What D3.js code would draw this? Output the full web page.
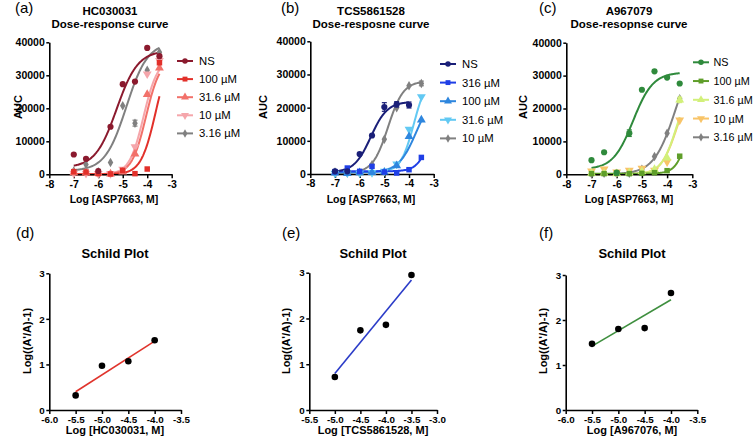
<!DOCTYPE html>
<html><head><meta charset="utf-8">
<script src="https://cdn.jsdelivr.net/npm/d3@7"></script>
<style>body{margin:0;background:#fff} text{font-family:"Liberation Sans",Arial,sans-serif}</style>
</head><body><svg id="c" width="756" height="442"></svg>
<script>
// ---------------- DATA ----------------
const doseX = [-7, -6.5, -6, -5.5, -5, -4.5, -4, -3.5];
const doseTicksX = [-8, -7, -6, -5, -4, -3];
const doseTicksY = [0, 10000, 20000, 30000, 40000];

// (a) HC030031
const namesA = ["NS", "100 µM", "31.6 µM", "10 µM", "3.16 µM"];
const aNS  = [6000, 4700, 1000, 14400, 27300, 28100, 38300, 35800];
const a100 = [800, 700, 200, 100, 1200, 200, 1600, 33800];
const a31  = [500, 400, 300, 100, 700, 6200, 24200, 32200];
const a10  = [300, 300, 200, 200, 1500, 8300, 30400, 34500];
const a3   = [1000, 3000, 800, 3600, 20800, 15500, 31500, 37000];
const errA3 = [0, 0, 0, 0, 0, 900, 0, 0];
const fitBottomA = [2000, 0, 0, 0, 1000];
const fitTopA    = [37500, 38000, 35000, 35000, 40000];
const fitEC50A   = [-5.25, -3.65, -4.05, -4.15, -4.85];
const fitHillA   = [1.0, 1.45, 1.5, 1.5, 1.0];

// (b) TCS5861528
const namesB = ["NS", "316 µM", "100 µM", "31.6 µM", "10 µM"];
const bNSX = [-7, -6.5, -6, -5.5, -5, -4.5, -4];
const bNS  = [800, 800, 6000, 11600, 20200, 21000, 20800];
const errBNS = [0, 0, 0, 0, 1300, 800, 900];
const b316 = [700, 1800, 800, 2300, 600, 300, 1300, 5000];
const b100 = [300, 200, 400, 500, 600, 2500, 11300, 16300];
const b31  = [200, 300, 300, 400, 800, 3000, 13500, 23300];
const b10  = [600, 300, 300, 2800, 10500, 20000, 26600, 27300];
const errB10 = [0, 0, 0, 0, 0, 0, 0, 700];
const fitBottomB = [500, 800, 500, 500, 300];
const fitTopB    = [21800, 30000, 25000, 30000, 28000];
const fitEC50B   = [-5.55, -3.0, -3.7, -3.8, -4.85];
const fitHillB   = [1.3, 1.6, 1.2, 1.6, 1.4];

// (c) A967079
const namesC = ["NS", "100 µM", "31.6 µM", "10 µM", "3.16 µM"];
const cNS  = [4300, 6700, 500, 12500, 25700, 31300, 29400, 27600];
const errCNS = [0, 0, 0, 1000, 0, 0, 0, 0];
const c100 = [200, 200, 300, 200, 300, 500, 1100, 5500];
const c31  = [300, 300, 200, 400, 800, 1500, 5000, 22600];
const errC31 = [0, 0, 0, 0, 0, 0, 0, 800];
const c10  = [1000, 1600, 700, 1200, 1800, 1200, 3800, 16500];
const c3   = [200, 300, 200, 300, 1500, 5400, 12500, 23000];
const fitBottomC = [1500, 200, 0, 0, 0];
const fitTopC    = [31000, 30000, 30000, 28000, 40000];
const fitEC50C   = [-5.35, -3.1, -3.6, -3.62, -3.65];
const fitHillC   = [1.1, 1.8, 1.4, 1.4, 1.0];

// Schild plots
const schildTicksY = [0, 1, 2, 3];
const dTicksX = [-6.0, -5.5, -5.0, -4.5, -4.0, -3.5];
const dX = [-5.5, -5.0, -4.5, -4.0];
const dY = [0.32, 0.97, 1.07, 1.53];
const dLineX = [-5.5, -4.0];
const dLineY = [0.40, 1.51];

const eTicksX = [-5.5, -5.0, -4.5, -4.0, -3.5, -3.0];
const eX = [-5.0, -4.5, -4.0, -3.5];
const eY = [0.72, 1.74, 1.86, 2.95];
const eLineX = [-5.0, -3.5];
const eLineY = [0.80, 2.84];

const fTicksX = [-6.0, -5.5, -5.0, -4.5, -4.0, -3.5];
const fX = [-5.5, -5.0, -4.5, -4.0];
const fY = [1.47, 1.80, 1.82, 2.60];
const fLineX = [-5.5, -4.0];
const fLineY = [1.42, 2.45];

// ---------------- DRAWING ----------------
const svg = d3.select("#c");
const FONT = '"Liberation Sans", Arial, sans-serif';

const triDown = { draw(ctx, size) { const h = Math.sqrt(size / (Math.sqrt(3)/4)); const r = h/Math.sqrt(3);
  ctx.moveTo(0, r); ctx.lineTo(h/2, -r/2); ctx.lineTo(-h/2, -r/2); ctx.closePath(); } };
const triUp = { draw(ctx, size) { const h = Math.sqrt(size / (Math.sqrt(3)/4)); const r = h/Math.sqrt(3);
  ctx.moveTo(0, -r); ctx.lineTo(h/2, r/2); ctx.lineTo(-h/2, r/2); ctx.closePath(); } };
const shapes = [d3.symbolCircle, d3.symbolSquare, triUp, triDown, d3.symbolDiamond];
const shapeSizes = [30, 30, 34, 34, 26];

function styleAxis(g, fs) {
  g.select(".domain").attr("stroke", "#000").attr("stroke-width", 1.6);
  g.selectAll(".tick line").attr("stroke", "#000").attr("stroke-width", 1.5);
  g.selectAll(".tick text").attr("fill", "#000").attr("font-weight", "bold")
    .attr("font-size", fs).attr("font-family", FONT);
}

function text(x, y, s, o) {
  o = o || {};
  const t = svg.append("text").attr("x", x).attr("y", y).text(s)
    .attr("font-size", o.size || 11).attr("font-weight", o.weight || "bold")
    .attr("text-anchor", o.anchor || "middle").attr("fill", "#000");
  if (o.rotate) t.attr("transform", `rotate(-90,${x},${y})`);
  return t;
}

function logistic(x, b, t, e, h) { return b + (t - b) / (1 + Math.pow(10, (e - x) * h)); }

function dosePanel(cfg) {
  const x = d3.scaleLinear().domain([-8, -3]).range(cfg.xr);
  const y = d3.scaleLinear().domain([0, 40000]).range(cfg.yr);
  const g = svg.append("g");
  for (let i = cfg.series.length - 1; i >= 0; i--) {
    const s = cfg.series[i];
    const x0 = d3.min(s.x), x1 = d3.max(s.x);
    const pts = d3.range(0, 121).map(k => {
      const xv = x0 + (x1 - x0) * k / 120;
      return [xv, logistic(xv, s.fit[0], s.fit[1], s.fit[2], s.fit[3])];
    });
    g.append("path").datum(pts)
      .attr("d", d3.line().x(d => x(d[0])).y(d => y(d[1])))
      .attr("fill", "none").attr("stroke", s.color).attr("stroke-width", 2);
  }
  const ax = g.append("g").attr("transform", `translate(0,${cfg.yr[0]})`)
    .call(d3.axisBottom(x).tickValues(doseTicksX).tickFormat(d => String(d)).tickSize(4).tickSizeOuter(0).tickPadding(2));
  styleAxis(ax, 10.5);
  const ay = g.append("g").attr("transform", `translate(${cfg.xr[0]},0)`)
    .call(d3.axisLeft(y).tickValues(doseTicksY).tickFormat(d => String(d)).tickSize(3).tickSizeOuter(0).tickPadding(1.5));
  styleAxis(ay, 10.5);
  for (let i = cfg.series.length - 1; i >= 0; i--) {
    const s = cfg.series[i];
    const sym = d3.symbol().type(shapes[i]).size(shapeSizes[i]);
    s.x.forEach((xv, j) => {
      const e = s.err ? s.err[j] : 0;
      if (e > 0) {
        g.append("line").attr("x1", x(xv)).attr("x2", x(xv)).attr("y1", y(s.y[j] - e)).attr("y2", y(s.y[j] + e))
          .attr("stroke", s.color).attr("stroke-width", 1.2);
        [s.y[j] - e, s.y[j] + e].forEach(v => g.append("line").attr("x1", x(xv) - 2.5).attr("x2", x(xv) + 2.5)
          .attr("y1", y(v)).attr("y2", y(v)).attr("stroke", s.color).attr("stroke-width", 1.2));
      }
      g.append("path").attr("d", sym()).attr("transform", `translate(${x(xv)},${y(s.y[j])})`).attr("fill", s.color);
    });
  }
  cfg.series.forEach((s, i) => {
    const ly = cfg.legY + i * cfg.legStep;
    g.append("line").attr("x1", cfg.legX).attr("x2", cfg.legX + 16).attr("y1", ly).attr("y2", ly)
      .attr("stroke", s.color).attr("stroke-width", 2);
    g.append("path").attr("d", d3.symbol().type(shapes[i]).size(shapeSizes[i] * 0.8)())
      .attr("transform", `translate(${cfg.legX + 8},${ly})`).attr("fill", s.color);
    text(cfg.legX + cfg.legGap, ly + 4, s.name, { anchor: "start", weight: "normal", size: cfg.legFont });
  });
  text(cfg.tx, 15, cfg.title1, { size: 11.5 });
  text(cfg.tx, 28, cfg.title2, { size: 11.5 });
  text(cfg.lx, 203, "Log [ASP7663, M]", { size: 10.5 });
  text(cfg.yx, 107, "AUC", { size: 11, rotate: true });
  text(cfg.px, 13, cfg.panel, { anchor: "start", weight: "normal", size: 15 });
}

function schildPanel(cfg) {
  const x = d3.scaleLinear().domain(cfg.xd).range(cfg.xr);
  const y = d3.scaleLinear().domain([0, 3]).range(cfg.yr);
  const g = svg.append("g");
  const ax = g.append("g").attr("transform", `translate(0,${cfg.yr[0]})`)
    .call(d3.axisBottom(x).tickValues(cfg.ticks).tickFormat(d => d.toFixed(1)).tickSize(4).tickSizeOuter(0).tickPadding(2));
  styleAxis(ax, 9.8);
  const ay = g.append("g").attr("transform", `translate(${cfg.xr[0]},0)`)
    .call(d3.axisLeft(y).tickValues(schildTicksY).tickFormat(d => String(d)).tickSize(3).tickSizeOuter(0).tickPadding(1.5));
  styleAxis(ay, 9.8);
  g.append("path").datum(cfg.lx.map((v, i) => [v, cfg.ly[i]]))
    .attr("d", d3.line().x(d => x(d[0])).y(d => y(d[1])))
    .attr("stroke", cfg.color).attr("stroke-width", 1.6).attr("fill", "none");
  cfg.px.forEach((v, i) => g.append("circle").attr("cx", x(v)).attr("cy", y(cfg.py[i])).attr("r", 3.3).attr("fill", "#000"));
  text(cfg.tx, 258, "Schild Plot", { size: 13 });
  text(cfg.tx, 434, cfg.xlabel, { size: 11 });
  text(cfg.yx, 341, "Log((A'/A)-1)", { size: 11, rotate: true });
  text(cfg.plx, 238, cfg.panel, { anchor: "start", weight: "normal", size: 15 });
}

function mk(names, cols, ys, errs, b, t, e, h, xs) {
  return names.map((n, i) => ({ name: n, color: cols[i], x: (xs && xs[i]) || doseX, y: ys[i], err: errs[i],
    fit: [b[i], t[i], e[i], h[i]] }));
}

dosePanel({
  xr: [49.3, 171.7], yr: [174.3, 42.3], legX: 177, legY: 61, legStep: 18.1, legGap: 22, legFont: 11.3,
  tx: 110, lx: 114, yx: 22, px: 15, panel: "(a)", title1: "HC030031", title2: "Dose-response curve",
  series: mk(namesA, ["#8b1a2e", "#e2302a", "#f2716a", "#f5a6ab", "#808080"],
    [aNS, a100, a31, a10, a3], [null, null, null, null, errA3], fitBottomA, fitTopA, fitEC50A, fitHillA)
});
dosePanel({
  xr: [310.3, 433.7], yr: [174, 41.3], legX: 440, legY: 64, legStep: 18.6, legGap: 22, legFont: 11.3,
  tx: 371, lx: 371, yx: 267, px: 281, panel: "(b)", title1: "TCS5861528", title2: "Dose-resposne curve",
  series: mk(namesB, ["#1a1f78", "#1f3fe6", "#2e86de", "#62c9f3", "#808080"],
    [bNS, b316, b100, b31, b10], [errBNS, null, null, null, errB10], fitBottomB, fitTopB, fitEC50B, fitHillB,
    [bNSX, null, null, null, null])
});
dosePanel({
  xr: [566.3, 692.3], yr: [174.3, 42.7], legX: 693, legY: 62.3, legStep: 18.75, legGap: 20.5, legFont: 10.8,
  tx: 629, lx: 629, yx: 527, px: 539, panel: "(c)", title1: "A967079", title2: "Dose-resopnse curve",
  series: mk(namesC, ["#2f8a3c", "#5f9e2a", "#d2f07a", "#f8c468", "#808080"],
    [cNS, c100, c31, c10, c3], [errCNS, null, errC31, null, null], fitBottomC, fitTopC, fitEC50C, fitHillC)
});

schildPanel({ xd: [-6, -3.5], xr: [49.3, 181], yr: [410, 273.3], ticks: dTicksX, px: dX, py: dY, lx: dLineX, ly: dLineY,
  color: "#e0342c", tx: 115, xlabel: "Log [HC030031, M]", yx: 31, plx: 16, panel: "(d)" });
schildPanel({ xd: [-5.5, -3.0], xr: [309.3, 437], yr: [410, 272.7], ticks: eTicksX, px: eX, py: eY, lx: eLineX, ly: eLineY,
  color: "#2b3cc8", tx: 373, xlabel: "Log [TCS5861528, M]", yx: 290, plx: 282, panel: "(e)" });
schildPanel({ xd: [-6, -3.5], xr: [565.7, 697.3], yr: [410, 275], ticks: fTicksX, px: fX, py: fY, lx: fLineX, ly: fLineY,
  color: "#3f8f3f", tx: 632, xlabel: "Log [A967076, M]", yx: 547, plx: 539, panel: "(f)" });
</script></body></html>
